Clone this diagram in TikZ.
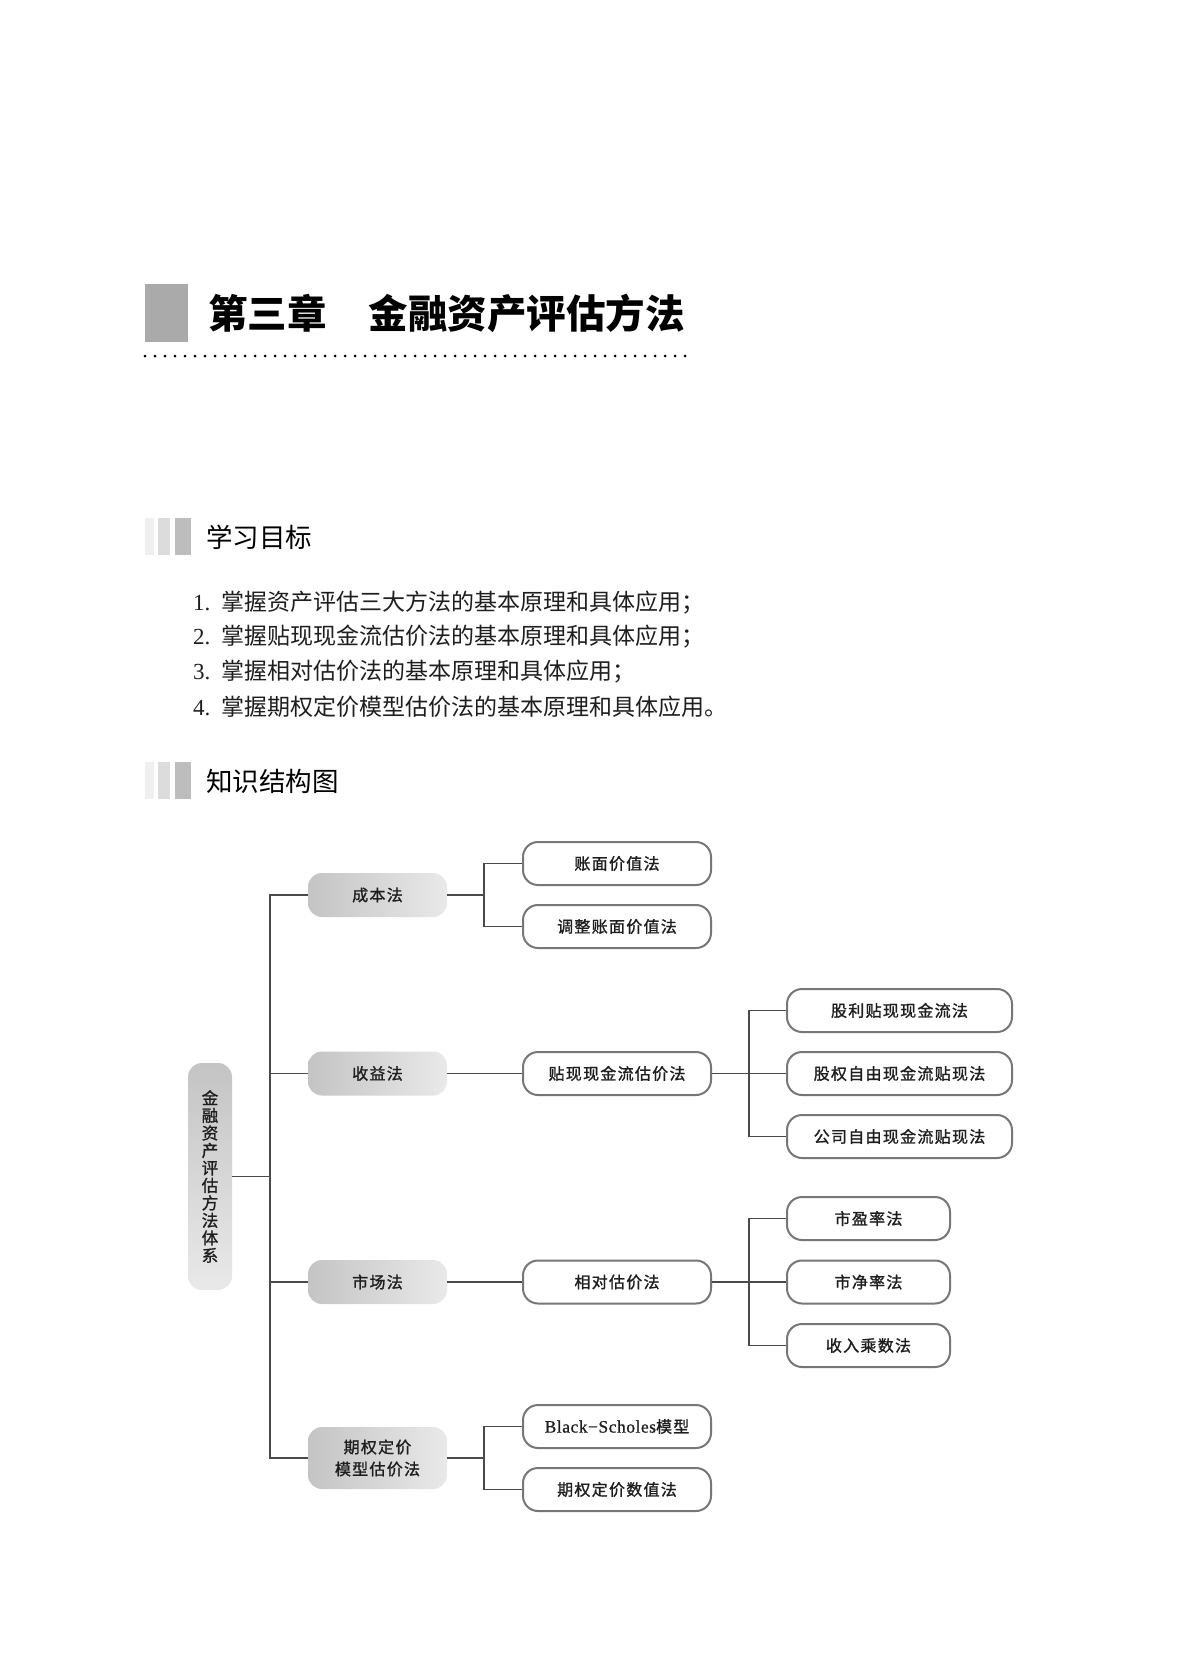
\documentclass[tikz,border=0pt]{standalone}
\usepackage{fontspec}
\setmainfont{Liberation Serif}
\newfontfamily\cjk{Noto Sans CJK SC}
\newfontfamily\cjkbox{Noto Sans CJK SC}[LetterSpace=8, FakeBold=1.3]
\newfontfamily\cjkroot{Noto Sans CJK SC}[FakeBold=1.3]
\newfontfamily\serifbox{Liberation Serif}[LetterSpace=3, FakeBold=0.6]
\definecolor{titlegray}{HTML}{AAAAAA}
\definecolor{barA}{HTML}{EFEFEF}
\definecolor{barB}{HTML}{DCDCDC}
\definecolor{barC}{HTML}{BDBDBD}
\definecolor{gdark}{HTML}{C4C4C4}
\definecolor{glight}{HTML}{E9E9E9}
\definecolor{bord}{HTML}{777777}
\definecolor{lin}{HTML}{4A4A4A}
\definecolor{txt}{HTML}{1E1E1E}
\tikzset{
  graybox/.style={rounded corners=14pt, minimum width=139pt, minimum height=44pt,
    left color=gdark, right color=glight, draw=none, inner sep=0pt, align=center,
    text=txt, font=\cjkbox\fontsize{16}{22}\selectfont},
  whitebox/.style={rounded corners=15pt, draw=bord, line width=2pt, fill=white,
    minimum height=43pt, inner sep=0pt, align=center, text=txt,
    font=\cjkbox\fontsize{16}{20}\selectfont},
  wA/.style={whitebox, minimum width=188pt},
  wB/.style={whitebox, minimum width=225pt},
  wC/.style={whitebox, minimum width=163pt},
  conn/.style={draw=lin, line width=1.3pt},
  listline/.style={anchor=west, inner sep=0pt, text=txt, font=\fontsize{23}{26}\selectfont},
  header/.style={anchor=west, inner sep=0pt, text=black, font=\cjk\fontsize{26.5}{30}\selectfont},
}
\begin{document}
\begin{tikzpicture}[x=1pt, y=-1pt]
\useasboundingbox (0,0) rectangle (1203,1675);
\fill[white] (0,0) rectangle (1203,1675);

% ---- chapter title ----
\fill[titlegray] (145,284) rectangle (188,342);
\node[anchor=west, inner sep=0pt, font=\cjk\bfseries\fontsize{39.5}{44}\selectfont] (title) at (208,313)
  {第三章\hspace{42pt}金融资产评估方法};
\draw[black, line width=3pt, line cap=round, dash pattern=on 0pt off 10pt] (145,356) -- (687,356);

% ---- section 1 ----
\fill[barA] (145,518) rectangle (154,555);
\fill[barB] (158,518) rectangle (170,555);
\fill[barC] (175,518) rectangle (191,555);
\node[header] (h1) at (206,537) {学习目标};

\node[listline] (l1) at (193,603) {1.\hspace{11.5pt}{\cjk 掌握资产评估三大方法的基本原理和具体应用；}};
\node[listline] (l2) at (193,637) {2.\hspace{11.5pt}{\cjk 掌握贴现现金流估价法的基本原理和具体应用；}};
\node[listline] (l3) at (193,672) {3.\hspace{11.5pt}{\cjk 掌握相对估价法的基本原理和具体应用；}};
\node[listline] (l4) at (193,707) {4.\hspace{11.5pt}{\cjk 掌握期权定价模型估价法的基本原理和具体应用。}};

% ---- section 2 ----
\fill[barA] (145,762) rectangle (154,799);
\fill[barB] (158,762) rectangle (170,799);
\fill[barC] (175,762) rectangle (191,799);
\node[header] (h2) at (206,781) {知识结构图};

% ---- diagram ----
\node[rounded corners=14pt, minimum width=44pt, minimum height=227pt, top color=gdark, bottom color=glight,
  inner sep=0pt, align=center, text=txt, font=\cjkroot\fontsize{16.5}{17.5}\selectfont] (root) at (210,1176.5)
  {金\\融\\资\\产\\评\\估\\方\\法\\体\\系};

\node[graybox] (cb) at (377.5,895) {成本法};
\node[graybox] (sy) at (377.5,1073.5) {收益法};
\node[graybox] (sc) at (377.5,1282) {市场法};
\node[graybox, minimum height=62pt] (qq) at (377.5,1458) {期权定价\\模型估价法};

\node[wA] (zm) at (617,863.5) {账面价值法};
\node[wA] (tz) at (617,926.5) {调整账面价值法};
\node[wA] (tx) at (617,1073.5) {贴现现金流估价法};
\node[wA] (xd) at (617,1282) {相对估价法};
\node[wA] (bs) at (617,1426.5) {{\serifbox\fontsize{17.5}{20}\selectfont Black−Scholes}模型};
\node[wA] (sz) at (617,1489.5) {期权定价数值法};

\node[wB] (gl) at (899.5,1010.5) {股利贴现现金流法};
\node[wB] (gq) at (899.5,1073.5) {股权自由现金流贴现法};
\node[wB] (gs) at (899.5,1136.5) {公司自由现金流贴现法};

\node[wC] (syl) at (868.5,1218.5) {市盈率法};
\node[wC] (sjl) at (868.5,1282) {市净率法};
\node[wC] (srcs) at (868.5,1345.5) {收入乘数法};

\coordinate (T) at (270,0);
\coordinate (B1) at (484,0);
\coordinate (B2) at (749,0);

\draw[conn] (root.east) -- (root.east -| T);
\draw[conn] (cb.west) -- (cb.west -| T) -- (qq.west -| T) -- (qq.west);
\draw[conn] (sy.west) -- (sy.west -| T);
\draw[conn] (sc.west) -- (sc.west -| T);

\draw[conn] (cb.east) -- (cb.east -| B1);
\draw[conn] (zm.west) -- (zm.west -| B1) -- (tz.west -| B1) -- (tz.west);

\draw[conn] (sy.east) -- (tx.west);
\draw[conn] (tx.east) -- (gq.west);
\draw[conn] (gl.west) -- (gl.west -| B2) -- (gs.west -| B2) -- (gs.west);

\draw[conn] (sc.east) -- (xd.west);
\draw[conn] (xd.east) -- (sjl.west);
\draw[conn] (syl.west) -- (syl.west -| B2) -- (srcs.west -| B2) -- (srcs.west);

\draw[conn] (qq.east) -- (qq.east -| B1);
\draw[conn] (bs.west) -- (bs.west -| B1) -- (sz.west -| B1) -- (sz.west);
\end{tikzpicture}
\end{document}
